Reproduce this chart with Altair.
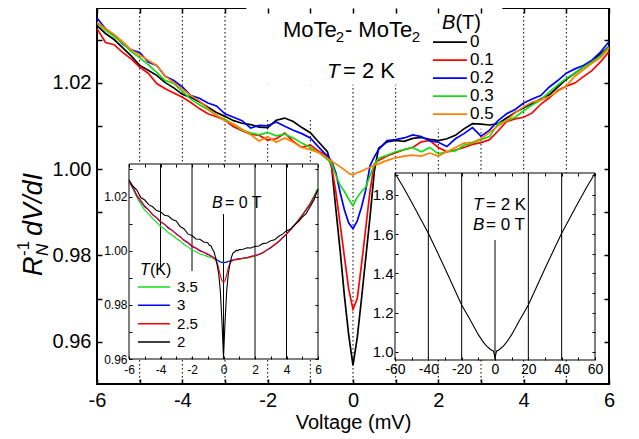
import altair as alt
import pandas as pd

# ---------------- data ----------------
V_MAIN = [-6.0, -5.8, -5.6, -5.4, -5.2, -5.0, -4.8, -4.6, -4.4, -4.2, -4.0, -3.8, -3.6, -3.4,
          -3.2, -3.0, -2.8, -2.6, -2.4, -2.2, -2.0, -1.8, -1.6, -1.4, -1.2, -1.0, -0.8, -0.6,
          -0.5, -0.4, -0.3, -0.2, -0.1, 0.0, 0.1, 0.2, 0.3, 0.4, 0.5,
          0.6, 0.8, 1.0, 1.2, 1.4, 1.6, 1.8, 2.0, 2.2, 2.4, 2.6, 2.8, 3.0, 3.2, 3.4, 3.6,
          3.8, 4.0, 4.2, 4.4, 4.6, 4.8, 5.0, 5.2, 5.4, 5.6, 5.8, 6.0]

R_B0 = [1.0332, 1.0314, 1.0300, 1.0281, 1.0262, 1.0240, 1.0229, 1.0217, 1.0200, 1.0188, 1.0173, 1.0166, 1.0156, 1.0143,
        1.0131, 1.0122, 1.0112, 1.0106, 1.0103, 1.0097, 1.0096, 1.0113, 1.0118, 1.0110, 1.0096, 1.0084, 1.0062, 1.0040,
        1.0005, 0.9905, 0.9810, 0.9705, 0.9615, 0.9545, 0.9610, 0.9700, 0.9795, 0.9890, 0.9995,
        1.0048, 1.0063, 1.0066, 1.0064, 1.0071, 1.0073, 1.0069, 1.0066, 1.0070, 1.0078, 1.0093, 1.0105, 1.0104, 1.0102, 1.0105, 1.0118,
        1.0131, 1.0142, 1.0152, 1.0162, 1.0172, 1.0190, 1.0208, 1.0222, 1.0236, 1.0250, 1.0266, 1.0284]

R_B01 = [1.0325, 1.0293, 1.0288, 1.0270, 1.0255, 1.0236, 1.0222, 1.0198, 1.0186, 1.0176, 1.0166, 1.0154, 1.0140, 1.0128,
         1.0121, 1.0113, 1.0098, 1.0089, 1.0081, 1.0078, 1.0067, 1.0070, 1.0083, 1.0064, 1.0050, 1.0056, 1.0041, 1.0030,
         1.0005, 0.9946, 0.9871, 0.9796, 0.9721, 0.9675, 0.9700, 0.9779, 0.9864, 0.9950, 1.0012,
         1.0020, 1.0030, 1.0038, 1.0045, 1.0050, 1.0063, 1.0066, 1.0050, 1.0040, 1.0044, 1.0050, 1.0057, 1.0061, 1.0068, 1.0088, 1.0110,
         1.0116, 1.0120, 1.0130, 1.0150, 1.0165, 1.0182, 1.0192, 1.0199, 1.0214, 1.0228, 1.0248, 1.0272]

R_B02 = [1.0350, 1.0325, 1.0310, 1.0290, 1.0276, 1.0270, 1.0248, 1.0240, 1.0215, 1.0205, 1.0190, 1.0170, 1.0164, 1.0153,
         1.0146, 1.0128, 1.0120, 1.0112, 1.0095, 1.0101, 1.0100, 1.0109, 1.0099, 1.0090, 1.0082, 1.0072, 1.0050, 1.0030,
         1.0018, 0.9990, 0.9945, 0.9905, 0.9875, 0.9862, 0.9880, 0.9912, 0.9952, 1.0008, 1.0028,
         1.0045, 1.0066, 1.0068, 1.0072, 1.0079, 1.0075, 1.0065, 1.0062, 1.0052, 1.0070, 1.0082, 1.0096, 1.0076, 1.0090, 1.0112, 1.0128,
         1.0138, 1.0153, 1.0162, 1.0170, 1.0190, 1.0205, 1.0222, 1.0232, 1.0240, 1.0252, 1.0271, 1.0295]

R_B03 = [1.0338, 1.0322, 1.0307, 1.0292, 1.0272, 1.0258, 1.0242, 1.0224, 1.0205, 1.0198, 1.0180, 1.0162, 1.0149, 1.0138,
         1.0124, 1.0115, 1.0103, 1.0090, 1.0084, 1.0079, 1.0085, 1.0077, 1.0081, 1.0072, 1.0060, 1.0050, 1.0038, 1.0022,
         1.0012, 0.9985, 0.9962, 0.9948, 0.9930, 0.9915, 0.9935, 0.9948, 0.9958, 0.9985, 1.0010,
         1.0025, 1.0032, 1.0040, 1.0045, 1.0050, 1.0040, 1.0050, 1.0035, 1.0040, 1.0042, 1.0055, 1.0060, 1.0068, 1.0075, 1.0105, 1.0112,
         1.0120, 1.0135, 1.0148, 1.0160, 1.0178, 1.0195, 1.0210, 1.0222, 1.0236, 1.0248, 1.0262, 1.0283]

R_B05 = [1.0340, 1.0325, 1.0312, 1.0295, 1.0276, 1.0264, 1.0252, 1.0240, 1.0215, 1.0200, 1.0185, 1.0170, 1.0158, 1.0140,
         1.0125, 1.0112, 1.0104, 1.0092, 1.0080, 1.0065, 1.0075, 1.0062, 1.0072, 1.0062, 1.0050, 1.0045, 1.0038, 1.0025,
         1.0018, 1.0012, 1.0005, 0.9998, 0.9990, 0.9986, 0.9992, 0.9995, 1.0000, 1.0004, 1.0009,
         1.0012, 1.0020, 1.0026, 1.0030, 1.0032, 1.0030, 1.0037, 1.0030, 1.0040, 1.0050, 1.0060, 1.0062, 1.0070, 1.0085, 1.0100, 1.0112,
         1.0130, 1.0144, 1.0155, 1.0160, 1.0168, 1.0180, 1.0192, 1.0215, 1.0230, 1.0245, 1.0258, 1.0280]

B_LABELS = ["0", "0.1", "0.2", "0.3", "0.5"]
B_COLORS = ["#000000", "#ff0000", "#0000ff", "#14dc14", "#ff8000"]

V_IN1 = [-6.0, -5.75, -5.5, -5.25, -5.0, -4.75, -4.5, -4.25, -4.0, -3.75, -3.5, -3.25, -3.0, -2.75, -2.5,
         -2.25, -2.0, -1.75, -1.5, -1.25, -1.0,
         -0.9, -0.8, -0.7, -0.6, -0.5, -0.4, -0.3, -0.2, -0.1, 0.0, 0.1, 0.2, 0.3, 0.4, 0.5, 0.6, 0.7, 0.8, 0.9,
         1.0, 1.25, 1.5, 1.75, 2.0, 2.25, 2.5, 2.75, 3.0, 3.25, 3.5, 3.75, 4.0, 4.25, 4.5, 4.75, 5.0, 5.25,
         5.5, 5.75, 6.0]

R_T35 = [1.0258, 1.0228, 1.0196, 1.0172, 1.0150, 1.0136, 1.0118, 1.0105, 1.0090, 1.0080, 1.0066, 1.0057, 1.0045, 1.0036, 1.0022,
         1.0014, 1.0002, 0.9996, 0.9988, 0.9984, 0.9978,
         0.9977, 0.9974, 0.9972, 0.9970, 0.9968, 0.9964, 0.9962, 0.9959, 0.9958, 0.9956, 0.9958, 0.9958, 0.9960, 0.9960,
         0.9963, 0.9963, 0.9966, 0.9966, 0.9968,
         0.9967, 0.9971, 0.9972, 0.9977, 0.9979, 0.9986, 0.9991, 1.0001, 1.0010, 1.0022, 1.0033, 1.0048, 1.0062, 1.0079,
         1.0095, 1.0114, 1.0133, 1.0155, 1.0177, 1.0204, 1.0232]

R_T3 = [1.0255, 1.0232, 1.0203, 1.0182, 1.0162, 1.0150, 1.0132, 1.0121, 1.0106, 1.0098, 1.0083, 1.0075, 1.0061, 1.0052, 1.0037,
        1.0028, 1.0015, 1.0009, 0.9999, 0.9994, 0.9985,
        0.9984, 0.9979, 0.9978, 0.9973, 0.9971, 0.9965, 0.9962, 0.9957, 0.9957, 0.9954, 0.9957, 0.9957, 0.9961, 0.9961,
        0.9965, 0.9965, 0.9968, 0.9967, 0.9970,
        0.9969, 0.9973, 0.9974, 0.9979, 0.9981, 0.9987, 0.9992, 1.0003, 1.0011, 1.0023, 1.0033, 1.0048, 1.0061, 1.0078,
        1.0093, 1.0112, 1.0129, 1.0151, 1.0171, 1.0198, 1.0224]

R_T25 = [1.0253, 1.0236, 1.0205, 1.0185, 1.0165, 1.0151, 1.0134, 1.0123, 1.0108, 1.0097, 1.0086, 1.0074, 1.0063, 1.0050, 1.0040,
         1.0030, 1.0018, 1.0010, 1.0002, 0.9994, 0.9988,
         0.9985, 0.9981, 0.9977, 0.9973, 0.9966, 0.9955, 0.9935, 0.9908, 0.9889, 0.9882, 0.9890, 0.9910, 0.9936, 0.9952,
         0.9961, 0.9964, 0.9967, 0.9968, 0.9969,
         0.9970, 0.9972, 0.9975, 0.9978, 0.9982, 0.9986, 0.9993, 1.0002, 1.0012, 1.0022, 1.0034, 1.0047, 1.0062, 1.0077,
         1.0094, 1.0111, 1.0130, 1.0150, 1.0172, 1.0197, 1.0224]

R_T2 = [1.0262, 1.0238, 1.0224, 1.0196, 1.0187, 1.0170, 1.0162, 1.0148, 1.0144, 1.0131, 1.0128, 1.0115, 1.0110, 1.0089, 1.0080,
        1.0061, 1.0056, 1.0043, 1.0042, 1.0032, 1.0029,
        1.0020, 1.0018, 1.0005, 0.9995, 0.9974, 0.9946, 0.9912, 0.9850, 0.9740, 0.9605, 0.9740, 0.9850, 0.9912, 0.9948,
        0.9975, 0.9991, 0.9995, 1.0001, 1.0000,
        1.0004, 1.0005, 1.0011, 1.0010, 1.0016, 1.0017, 1.0026, 1.0028, 1.0037, 1.0040, 1.0053, 1.0061, 1.0074, 1.0079,
        1.0095, 1.0106, 1.0124, 1.0137, 1.0162, 1.0188, 1.0228]

T_LABELS = ["3.5", "3", "2.5", "2"]
T_COLORS = ["#14dc14", "#0000ff", "#ff0000", "#000000"]

V_IN2 = [-60, -55, -50, -45, -40, -35, -30, -25, -20, -15, -10, -7, -5, -3, -2, -1, -0.5, 0,
         0.5, 1, 2, 3, 5, 7, 10, 15, 20, 25, 30, 35, 40, 45, 50, 55, 60]
R_IN2 = [1.910, 1.838, 1.762, 1.683, 1.604, 1.515, 1.425, 1.332, 1.239, 1.165, 1.088, 1.050, 1.030, 1.015, 1.009, 1.005, 0.990, 0.968,
         0.990, 1.005, 1.009, 1.015, 1.030, 1.050, 1.088, 1.165, 1.239, 1.332, 1.425, 1.515, 1.604, 1.683, 1.762, 1.838, 1.910]

MAIN_X_TICKS = [-6, -5, -4, -3, -2, -1, 0, 1, 2, 3, 4, 5, 6]
MAIN_Y_TICKS = [0.96, 0.97, 0.98, 0.99, 1.00, 1.01, 1.02, 1.03]
MAIN_GRID = [-5, -4, -3, -2, -1, 0, 1, 2, 3, 4, 5]
IN1_X_TICKS = [-6, -5, -4, -3, -2, -1, 0, 1, 2, 3, 4, 5, 6]
IN1_Y_TICKS = [0.96, 0.97, 0.98, 0.99, 1.00, 1.01, 1.02, 1.03]
IN1_GRID = [-4, -2, 0, 2, 4]
IN2_X_TICKS = [-60, -50, -40, -30, -20, -10, 0, 10, 20, 30, 40, 50, 60]
IN2_Y_TICKS = [1.0, 1.1, 1.2, 1.3, 1.4, 1.5, 1.6, 1.7, 1.8, 1.9]
IN2_GRID = [-40, -20, 0, 20, 40]

# ---------------- layout ----------------
FONT = "Liberation Sans"
W, H = 512, 376
MAIN_XD = [-6, 6]
MAIN_YD = [0.9502, 1.0373]
IN1_XD = [-6, 6]
IN1_YD = [0.96, 1.032]
IN1_PX = [32, 221]
IN1_PY = [351, 156]
IN2_XD = [-60, 60]
IN2_YD = [0.959, 1.911]
IN2_PX = [298, 498]
IN2_PY = [352, 165]
TICK = 5
ITICK = 3

SX_M = alt.Scale(domain=MAIN_XD, nice=False, zero=False)
SY_M = alt.Scale(domain=MAIN_YD, nice=False, zero=False)
SX_1 = alt.Scale(domain=IN1_XD, range=IN1_PX, nice=False, zero=False)
SY_1 = alt.Scale(domain=IN1_YD, range=IN1_PY, nice=False, zero=False)
SX_2 = alt.Scale(domain=IN2_XD, range=IN2_PX, nice=False, zero=False)
SY_2 = alt.Scale(domain=IN2_YD, range=IN2_PY, nice=False, zero=False)

XEXPR2 = "datum.value % 2 == 0 ? '' + datum.value : ''"
XEXPR20 = "datum.value % 20 == 0 ? '' + datum.value : ''"
YEXPR2 = "round(datum.value * 100) % 2 == 0 ? format(datum.value, '.2f') : ''"
YEXPR1 = "round(datum.value * 10) % 2 == 0 ? format(datum.value, '.1f') : ''"


def mk_axis(orient, values, offset, tick, width=1.0, expr=None, fs=13, pad=2, **kw):
    args = dict(orient=orient, values=values, offset=offset, tickSize=tick, tickWidth=width,
                tickColor="black", domain=False, grid=False, zindex=1, title=None)
    if expr is None:
        args["labels"] = False
    else:
        args.update(labelExpr=expr, labelFontSize=fs, labelPadding=pad, labelFont=FONT,
                    labelColor="black", labelFlush=False, labelOverlap=False)
    args.update(kw)
    return alt.Axis(**args)


AX_MB = mk_axis("bottom", MAIN_X_TICKS, -TICK, TICK, 1.5, XEXPR2, 20, 6,
                title="Voltage (mV)", titleFont=FONT, titleFontSize=20,
                titleFontWeight="normal", titleColor="black", titlePadding=2)
AX_MT = mk_axis("top", MAIN_X_TICKS, -TICK, TICK, 1.5)
AX_ML = mk_axis("left", MAIN_Y_TICKS, -TICK, TICK, 1.5, YEXPR2, 20, 6)
AX_MR = mk_axis("right", MAIN_Y_TICKS, -TICK, TICK, 1.5)

AX_1B = mk_axis("bottom", IN1_X_TICKS, IN1_PY[0] - H - ITICK, ITICK, 1, XEXPR2, 12, 5)
AX_1T = mk_axis("top", IN1_X_TICKS, -(IN1_PY[1] + ITICK), ITICK)
AX_1L = mk_axis("left", IN1_Y_TICKS, -(IN1_PX[0] + ITICK), ITICK, 1, YEXPR2, 12, 2)
AX_1R = mk_axis("right", IN1_Y_TICKS, IN1_PX[1] - ITICK - W, ITICK)

AX_2B = mk_axis("bottom", IN2_X_TICKS, IN2_PY[0] - H - ITICK, ITICK, 1, XEXPR20, 14, 2)
AX_2T = mk_axis("top", IN2_X_TICKS, -(IN2_PY[1] + ITICK), ITICK)
AX_2L = mk_axis("left", IN2_Y_TICKS, -(IN2_PX[0] + ITICK), ITICK, 1, YEXPR1, 15, 2)
AX_2R = mk_axis("right", IN2_Y_TICKS, IN2_PX[1] - ITICK - W, ITICK)


def text_layer(items, sx, sy, size, style="normal", baseline="alphabetic"):
    df = pd.DataFrame({"t": [i[0] for i in items], "x": [i[1] for i in items], "y": [i[2] for i in items]})
    return alt.Chart(df).mark_text(font=FONT, fontSize=size, fontStyle=style, align="left",
                                   baseline=baseline, color="black").encode(
        x=alt.X("x:Q", scale=sx, axis=None),
        y=alt.Y("y:Q", scale=sy, axis=None),
        text="t:N")


def box_layer(boxes, sx, sy, axx=None, axy=None):
    df = pd.DataFrame({"x0": [b[0] for b in boxes], "x1": [b[1] for b in boxes],
                       "y0": [b[2] for b in boxes], "y1": [b[3] for b in boxes]})
    return alt.Chart(df).mark_rect(color="white").encode(
        x=alt.X("x0:Q", scale=sx, axis=axx), x2=alt.X2("x1"),
        y=alt.Y("y0:Q", scale=sy, axis=axy), y2=alt.Y2("y1"))


def legend_layers(labels, cscale, sx, sy, x0, x1, tx, y0, dy, sw, fs):
    ys = [y0 - i * dy for i in range(len(labels))]
    df = pd.DataFrame({"lab": labels, "y": ys, "x0": x0, "x1": x1, "tx": tx})
    lines = alt.Chart(df).mark_rule(strokeWidth=sw).encode(
        x=alt.X("x0:Q", scale=sx, axis=None), x2=alt.X2("x1"),
        y=alt.Y("y:Q", scale=sy, axis=None),
        color=alt.Color("lab:N", scale=cscale, legend=None))
    texts = alt.Chart(df).mark_text(font=FONT, fontSize=fs, align="left", baseline="middle",
                                    color="black").encode(
        x=alt.X("tx:Q", scale=sx, axis=None),
        y=alt.Y("y:Q", scale=sy, axis=None),
        text="lab:N")
    return [lines, texts]


# ---------------- main panel ----------------
CS_B = alt.Scale(domain=B_LABELS, range=B_COLORS)
rows = []
for lab, arr in zip(B_LABELS, [R_B0, R_B01, R_B02, R_B03, R_B05]):
    for v, r in zip(V_MAIN, arr):
        rows.append({"V": v, "R": r, "B": lab})
df_main = pd.DataFrame(rows)

main_grid = alt.Chart(pd.DataFrame({"g": MAIN_GRID})).mark_rule(
    color="black", strokeWidth=1, strokeDash=[1.5, 2.5]).encode(
    x=alt.X("g:Q", scale=SX_M, axis=AX_MB))

main_boxes = box_layer([(-2.5, 1.5, 1.0195, MAIN_YD[1]), (-2.5, -0.55, 1.0114, 1.0195),
                        (1.5, 3.5, 1.0093, MAIN_YD[1])], SX_M, SY_M, AX_MT, AX_MR)

main_lines = alt.Chart(df_main).mark_line(strokeWidth=1.7, clip=True).encode(
    x=alt.X("V:Q", scale=SX_M, axis=None),
    y=alt.Y("R:Q", scale=SY_M, axis=AX_ML),
    color=alt.Color("B:N", scale=CS_B, legend=None))

main_leg = legend_layers(B_LABELS, CS_B, SX_M, SY_M, 1.875, 2.67, 2.742, 1.02940, 0.00417, 1.8, 17)

main_txt = [
    text_layer([("MoTe", -1.641, 1.03059), ("- MoTe", -0.190, 1.03059),
                ("= 2 K", -0.234, 1.02109)], SX_M, SY_M, 22),
    text_layer([("2", -0.405, 1.02943), ("2", 1.375, 1.02943)], SX_M, SY_M, 15),
    text_layer([("T", -0.609, 1.02109)], SX_M, SY_M, 21, "italic"),
    text_layer([("(T)", 2.40, 1.03240)], SX_M, SY_M, 20),
    text_layer([("B", 2.086, 1.03240)], SX_M, SY_M, 20, "italic"),
]

one = pd.DataFrame({"a": [0]})


def ytitle(t, x, y, size, style):
    return alt.Chart(one).mark_text(font=FONT, fontSize=size, fontStyle=style, angle=270,
                                    align="left", baseline="alphabetic", color="black").encode(
        x=alt.value(x), y=alt.value(y), text=alt.value(t))


ytitle_layers = [
    ytitle("R", -55, 268, 27, "italic"),
    ytitle("N", -49, 248, 17, "italic"),
    ytitle("-1", -68, 248, 17, "normal"),
    ytitle("dV/dI", -55, 228, 27, "italic"),
]

main = alt.layer(main_grid, main_boxes, main_lines, *main_leg, *main_txt, *ytitle_layers).resolve_axis(
    x="independent", y="independent")

# ---------------- inset 1 ----------------
CS_T = alt.Scale(domain=T_LABELS, range=T_COLORS)
rows = []
for lab, arr in zip(T_LABELS, [R_T35, R_T3, R_T25, R_T2]):
    for v, r in zip(V_IN1, arr):
        rows.append({"V": v, "R": r, "T": lab})
df_in1 = pd.DataFrame(rows)

in1_bg = alt.Chart(pd.DataFrame({"x0": [IN1_XD[0]], "x1": [IN1_XD[1]], "y0": [IN1_YD[0]], "y1": [IN1_YD[1]]})).mark_rect(
    fill="white", stroke="black", strokeWidth=1).encode(
    x=alt.X("x0:Q", scale=SX_1, axis=AX_1B), x2=alt.X2("x1"),
    y=alt.Y("y0:Q", scale=SY_1, axis=AX_1L), y2=alt.Y2("y1"))

in1_grid = alt.Chart(pd.DataFrame({"g": IN1_GRID, "lo": IN1_YD[0], "hi": IN1_YD[1]})).mark_rule(
    color="black", strokeWidth=1).encode(
    x=alt.X("g:Q", scale=SX_1, axis=AX_1T),
    y=alt.Y("lo:Q", scale=SY_1, axis=AX_1R), y2=alt.Y2("hi"))

in1_boxes = box_layer([(-5.6, -1.7, 0.9606, 0.9925), (-1.2, 1.2, 1.0135, 1.0316)], SX_1, SY_1)

in1_lines = alt.Chart(df_in1).mark_line(strokeWidth=1.1).encode(
    x=alt.X("V:Q", scale=SX_1, axis=None),
    y=alt.Y("R:Q", scale=SY_1, axis=None),
    color=alt.Color("T:N", scale=CS_T, legend=None))

in1_leg = legend_layers(T_LABELS, CS_T, SX_1, SY_1, -5.43, -3.40, -2.95, 0.98658, 0.00677, 1.5, 15)

in1_txt = [
    text_layer([("= 0 T", 0.095, 1.01575), ("(K)", -4.667, 0.99102)], SX_1, SY_1, 16),
    text_layer([("B", -0.730, 1.01575), ("T", -5.302, 0.99102)], SX_1, SY_1, 16, "italic"),
]

inset1 = alt.layer(in1_bg, in1_grid, in1_boxes, in1_lines, *in1_leg, *in1_txt).resolve_axis(
    x="independent", y="independent")

# ---------------- inset 2 ----------------
df_in2 = pd.DataFrame({"V": V_IN2, "R": R_IN2})

in2_bg = alt.Chart(pd.DataFrame({"x0": [IN2_XD[0]], "x1": [IN2_XD[1]], "y0": [IN2_YD[0]], "y1": [IN2_YD[1]]})).mark_rect(
    fill="white", stroke="black", strokeWidth=1).encode(
    x=alt.X("x0:Q", scale=SX_2, axis=AX_2B), x2=alt.X2("x1"),
    y=alt.Y("y0:Q", scale=SY_2, axis=AX_2L), y2=alt.Y2("y1"))

in2_grid = alt.Chart(pd.DataFrame({"g": IN2_GRID, "lo": IN2_YD[0], "hi": IN2_YD[1]})).mark_rule(
    color="black", strokeWidth=1).encode(
    x=alt.X("g:Q", scale=SX_2, axis=AX_2T),
    y=alt.Y("lo:Q", scale=SY_2, axis=AX_2R), y2=alt.Y2("hi"))

in2_boxes = box_layer([(-12, 12, 1.57, 1.905)], SX_2, SY_2)

in2_line = alt.Chart(df_in2).mark_line(strokeWidth=1.1, color="black").encode(
    x=alt.X("V:Q", scale=SX_2, axis=None),
    y=alt.Y("R:Q", scale=SY_2, axis=None))

in2_txt = [
    text_layer([("= 2 K", -5.4, 1.7226), ("= 0 T", -5.4, 1.6208)], SX_2, SY_2, 17),
    text_layer([("T", -13.2, 1.7226), ("B", -13.2, 1.6208)], SX_2, SY_2, 17, "italic"),
]

inset2 = alt.layer(in2_bg, in2_grid, in2_boxes, in2_line, *in2_txt).resolve_axis(
    x="independent", y="independent")

# ---------------- compose ----------------
chart = alt.layer(main, inset1, inset2).resolve_scale(
    x="independent", y="independent", color="independent").properties(
    width=W, height=H,
    padding={"left": 89, "top": 0, "right": 20, "bottom": 55},
    autosize=alt.AutoSizeParams(type="none"),
).configure_view(stroke="black", strokeWidth=2).configure_axis(
    labelFont=FONT, titleFont=FONT, labelColor="black", titleColor="black")

chart.save("out.html", embed_options={"renderer": "svg", "actions": False})
